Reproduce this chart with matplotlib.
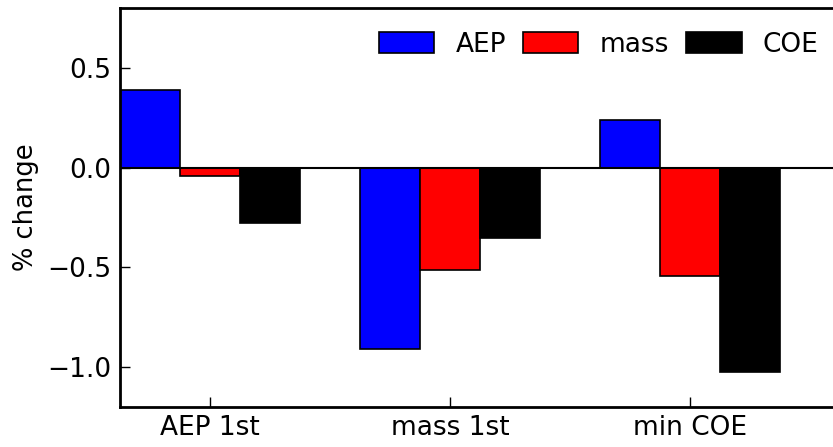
import numpy as np
import matplotlib
matplotlib.use('Agg')
import matplotlib.pyplot as plt

# values
groups = ['AEP 1st', 'mass 1st', 'min COE']
aep = [0.39, -0.91, 0.24]
mass = [-0.04, -0.515, -0.545]
coe = [-0.28, -0.355, -1.025]

plt.rcParams['font.size'] = 19
plt.rcParams['font.family'] = 'DejaVu Sans'

fig = plt.figure(figsize=(8.33, 4.47), dpi=100)
ax = fig.add_axes([120 / 833, 40 / 447, 720 / 833, 399 / 447])

x = np.arange(len(groups))
w = 0.25
ax.bar(x, aep, w, align='edge', color='blue', edgecolor='black', linewidth=1.2, label='AEP')
ax.bar(x + w, mass, w, align='edge', color='red', edgecolor='black', linewidth=1.2, label='mass')
ax.bar(x + 2 * w, coe, w, align='edge', color='black', edgecolor='black', linewidth=1.2, label='COE')
ax.axhline(0, color='black', linewidth=1.5)

ax.set_xlim(0, 3)
ax.set_ylim(-1.2, 0.8)
ax.set_xticks(x + 1.5 * w)
ax.set_xticklabels(groups)
ax.set_yticks([-1.0, -0.5, 0.0, 0.5])
ax.set_ylabel('% change', fontsize=18.5)
ax.yaxis.set_label_coords(-0.113, 0.5)

ax.tick_params(direction='in', length=7, width=1, pad=6, top=False, right=False)
for s in ax.spines.values():
    s.set_linewidth(2)

ax.legend(loc='upper right', ncol=3, frameon=False, fontsize=19,
          handlelength=2.1, handleheight=0.8, columnspacing=0.65,
          handletextpad=0.8, bbox_to_anchor=(1.003, 1.0))

fig.savefig('out.png', dpi=100)
